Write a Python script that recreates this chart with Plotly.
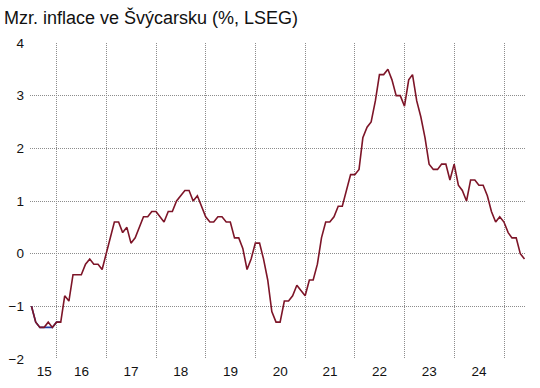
import plotly.graph_objects as go
import pandas as pd

# Monthly y/y CPI inflation in Switzerland, Jun 2015 - May 2025 (%)
start_month = "2015-06-30"
inflation = [
    -1.0, -1.3, -1.4, -1.4, -1.3, -1.4, -1.3,                                  # 2015 Jun-Dec
    -1.3, -0.8, -0.9, -0.4, -0.4, -0.4, -0.2, -0.1, -0.2, -0.2, -0.3, 0.0,     # 2016
    0.3, 0.6, 0.6, 0.4, 0.5, 0.2, 0.3, 0.5, 0.7, 0.7, 0.8, 0.8,                # 2017
    0.7, 0.6, 0.8, 0.8, 1.0, 1.1, 1.2, 1.2, 1.0, 1.1, 0.9, 0.7,                # 2018
    0.6, 0.6, 0.7, 0.7, 0.6, 0.6, 0.3, 0.3, 0.1, -0.3, -0.1, 0.2,              # 2019
    0.2, -0.1, -0.5, -1.1, -1.3, -1.3, -0.9, -0.9, -0.8, -0.6, -0.7, -0.8,     # 2020
    -0.5, -0.5, -0.2, 0.3, 0.6, 0.6, 0.7, 0.9, 0.9, 1.2, 1.5, 1.5,             # 2021
    1.6, 2.2, 2.4, 2.5, 2.9, 3.4, 3.4, 3.5, 3.3, 3.0, 3.0, 2.8,                # 2022
    3.3, 3.4, 2.9, 2.6, 2.2, 1.7, 1.6, 1.6, 1.7, 1.7, 1.4, 1.7,                # 2023
    1.3, 1.2, 1.0, 1.4, 1.4, 1.3, 1.3, 1.1, 0.8, 0.6, 0.7, 0.6,                # 2024
    0.4, 0.3, 0.3, 0.0, -0.1,                                                  # 2025 Jan-May
]
# second (blue) series, visible only in late 2015
inflation_alt = [-1.0, -1.3, -1.4, -1.4, -1.4, -1.4, -1.3, -1.3]

tick_labels = ["15", "16", "17", "18", "19", "20", "21", "22", "23", "24"]
tick_positions = ["2015-10-01"] + [f"20{y}-07-01" for y in tick_labels[1:]]
year_starts = [f"{y}-01-01" for y in range(2016, 2026)]

dates = pd.date_range(start_month, periods=len(inflation), freq="ME")
dates_alt = dates[:len(inflation_alt)]

grid_color = "#8c8c8c"
grid_dash = "1px,1px"

fig = go.Figure()
fig.add_trace(go.Scatter(x=dates_alt, y=inflation_alt, mode="lines",
                         line=dict(color="#2340a8", width=1.6), hoverinfo="skip"))
fig.add_trace(go.Scatter(x=dates, y=inflation, mode="lines",
                         line=dict(color="#7d1528", width=1.6)))

fig.update_layout(
    width=540, height=388,
    margin=dict(l=30, r=14, t=43, b=29, autoexpand=False),
    paper_bgcolor="white", plot_bgcolor="white",
    showlegend=False,
    font=dict(family="Liberation Sans, Arial, sans-serif", size=13.5, color="#111"),
    title=dict(text="Mzr. inflace ve Švýcarsku (%, LSEG)",
               x=4 / 540, xref="container", xanchor="left",
               y=1 - 18 / 388, yref="container", yanchor="middle",
               automargin=False,
               font=dict(size=18, color="#111")),
)
fig.update_xaxes(
    type="date",
    range=["2015-06-19", "2025-06-11"],
    tickmode="array", tickvals=tick_positions, ticktext=tick_labels,
    showgrid=False, zeroline=False, showline=False, ticks="",
    automargin=False, ticklabelstandoff=2,
    minor=dict(tickmode="array", tickvals=year_starts, showgrid=True,
               gridcolor=grid_color, griddash=grid_dash, gridwidth=1, ticks=""),
)
fig.update_yaxes(
    range=[-2, 4], dtick=1, tick0=0,
    showgrid=True, gridcolor=grid_color, griddash=grid_dash, gridwidth=1,
    zeroline=False, showline=False, ticks="",
    automargin=False, ticklabelstandoff=5,
)

fig.write_html("out.html",
               config={"displayModeBar": False},
               post_script="document.body.style.margin='0';document.body.style.overflow='hidden';")
